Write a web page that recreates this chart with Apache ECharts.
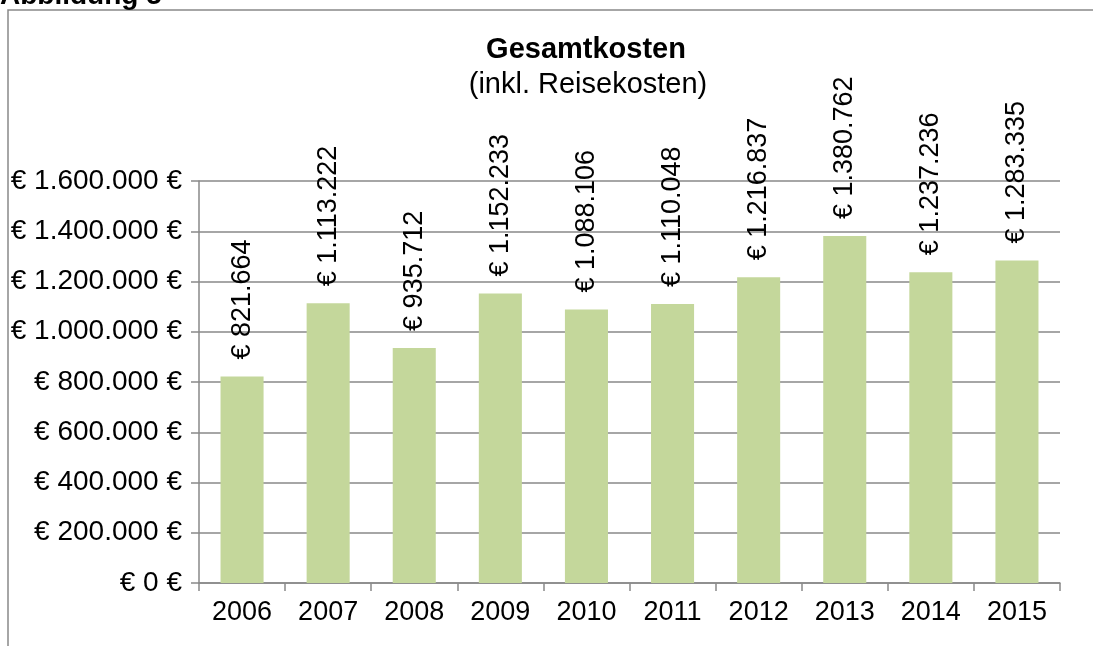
<!DOCTYPE html>
<html>
<head>
<meta charset="utf-8">
<script src="https://cdn.jsdelivr.net/npm/echarts@6/dist/echarts.min.js"></script>
<style>
html,body{margin:0;padding:0;background:#fff;}
#chart{width:1093px;height:646px;}
</style>
</head>
<body>
<div id="chart"></div>
<script>
const categories = ['2006','2007','2008','2009','2010','2011','2012','2013','2014','2015'];
const totalCosts = [821664, 1113222, 935712, 1152233, 1088106, 1110048, 1216837, 1380762, 1237236, 1283335];
const yMin = 0;
const yMax = 1600000;
const yInterval = 200000;
const titleText = 'Gesamtkosten';
const subtitleText = '(inkl. Reisekosten)';
const figureText = 'Abbildung 5';

function fmt(v) {
  return String(Math.round(v)).replace(/\B(?=(\d{3})+(?!\d))/g, '.');
}

const FONT = '"Liberation Sans", Arial, sans-serif';
const GRAY = '#898989';

const chart = echarts.init(document.getElementById('chart'), null, {renderer: 'canvas'});
chart.setOption({
  animation: false,
  backgroundColor: '#ffffff',
  textStyle: {fontFamily: FONT},
  grid: {left: 199, right: 33, top: 181, bottom: 63, containLabel: false},
  xAxis: {
    type: 'category',
    data: categories,
    axisLine: {show: true, lineStyle: {color: GRAY, width: 1.5}},
    axisTick: {show: true, length: 8, lineStyle: {color: GRAY, width: 1.5}},
    axisLabel: {color: '#000', fontSize: 27, fontFamily: FONT, margin: 16}
  },
  yAxis: {
    type: 'value',
    min: yMin,
    max: yMax,
    interval: yInterval,
    axisLine: {show: true, lineStyle: {color: GRAY, width: 1.5}},
    axisTick: {show: true, length: 8, lineStyle: {color: GRAY, width: 1.5}},
    splitLine: {show: true, lineStyle: {color: GRAY, width: 1.5}},
    axisLabel: {
      color: '#000', fontSize: 28, fontFamily: FONT, margin: 17,
      formatter: v => '€ ' + fmt(v) + ' €'
    }
  },
  series: [{
    type: 'bar',
    data: totalCosts,
    barWidth: '50%',
    itemStyle: {color: '#c4d79b'},
    label: {
      show: true,
      position: 'top',
      rotate: 90,
      align: 'left',
      verticalAlign: 'middle',
      distance: 17,
      fontSize: 27,
      fontFamily: FONT,
      color: '#000',
      formatter: p => '€ ' + fmt(p.value)
    }
  }],
  graphic: [
    {
      type: 'rect',
      z: -10,
      shape: {x: 8, y: 10, width: 1300, height: 1000},
      style: {fill: 'none', stroke: GRAY, lineWidth: 1.5},
      silent: true
    },
    {
      type: 'text',
      x: 0, y: -4,
      style: {text: figureText, fontSize: 28, fontWeight: 'bold', fontFamily: FONT, fill: '#000', align: 'left', verticalAlign: 'middle'}
    },
    {
      type: 'text',
      x: 586, y: 50,
      style: {text: titleText, fontSize: 29, fontWeight: 'bold', fontFamily: FONT, fill: '#000', align: 'center', verticalAlign: 'middle'}
    },
    {
      type: 'text',
      x: 588, y: 85,
      style: {text: subtitleText, fontSize: 29, fontFamily: FONT, fill: '#000', align: 'center', verticalAlign: 'middle'}
    }
  ]
});
</script>
</body>
</html>
